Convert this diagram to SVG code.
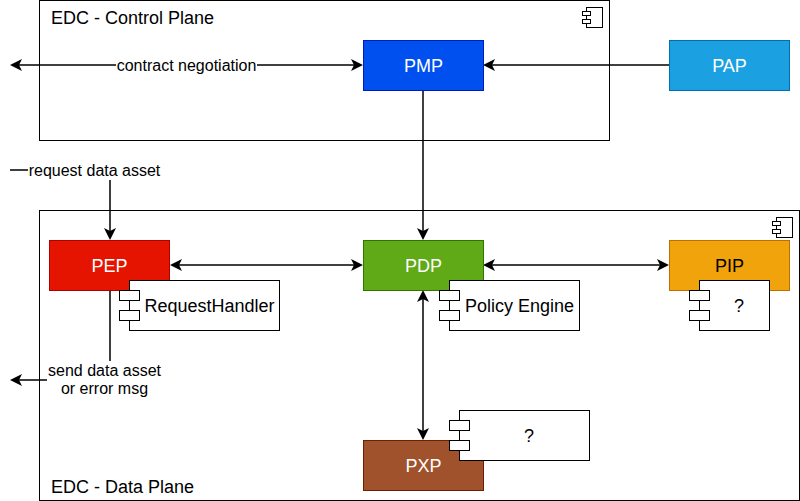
<svg xmlns="http://www.w3.org/2000/svg" width="800" height="501" viewBox="0 0 800 501">
<style>
.frame{fill:#ffffff;stroke:#000000;stroke-width:1}
.icon{fill:#ffffff;stroke:#000000;stroke-width:1}
.comp{fill:#ffffff;stroke:#000000;stroke-width:1}
.title{font-family:"Liberation Sans",Arial,sans-serif;font-size:18px;fill:#000000}
.nlabel{font-family:"Liberation Sans",Arial,sans-serif;font-size:18px;fill:#ffffff;text-anchor:middle}
.clabel{font-family:"Liberation Sans",Arial,sans-serif;font-size:18px;fill:#000000;text-anchor:middle}
.elabel{font-family:"Liberation Sans",Arial,sans-serif;font-size:16px;fill:#000000;text-anchor:middle}
.edge{fill:none;stroke:#000000;stroke-width:1.5}
.lbg{fill:#ffffff}
</style>
<defs>
<marker id="arr" markerUnits="userSpaceOnUse" markerWidth="12" markerHeight="12" viewBox="0 0 12 12" refX="3" refY="6" orient="auto-start-reverse">
<path d="M12,6 L0,0 L3,6 L0,12 Z" fill="#000000"/>
</marker>
</defs>

<g id="control-plane">
<rect class="frame" x="39.5" y="0.5" width="570" height="140"/>
<rect class="icon" x="586.5" y="7.5" width="16" height="20"/>
<rect class="icon" x="582.5" y="11.5" width="8" height="4"/>
<rect class="icon" x="582.5" y="19.5" width="8" height="4"/>
<text class="title" x="51" y="23.5">EDC - Control Plane</text>
</g>

<g id="data-plane">
<rect class="frame" x="39.5" y="210.5" width="760" height="290"/>
<rect class="icon" x="776.5" y="217.5" width="16" height="20"/>
<rect class="icon" x="772.5" y="221.5" width="8" height="4"/>
<rect class="icon" x="772.5" y="229.5" width="8" height="4"/>
<text class="title" x="51" y="493">EDC - Data Plane</text>
</g>

<g id="connectors">
<path class="edge" d="M19,65 H354" marker-start="url(#arr)" marker-end="url(#arr)"/>
<path class="edge" d="M669,65 H492" marker-end="url(#arr)"/>
<path class="edge" d="M423,90 V231" marker-end="url(#arr)"/>
<path class="edge" d="M179,265 H354" marker-start="url(#arr)" marker-end="url(#arr)"/>
<path class="edge" d="M492,265 H660" marker-start="url(#arr)" marker-end="url(#arr)"/>
<path class="edge" d="M423,299 V431" marker-start="url(#arr)" marker-end="url(#arr)"/>
<path class="edge" d="M10,170 H110 V231" marker-end="url(#arr)"/>
<path class="edge" d="M110,290 V380 H19" marker-end="url(#arr)"/>
<rect class="lbg" x="116" y="56" width="141" height="19"/>
<text class="elabel" x="186.5" y="70.5">contract negotiation</text>
<rect class="lbg" x="28" y="161" width="133" height="19"/>
<text class="elabel" x="94.5" y="175.5">request data asset</text>
<rect class="lbg" x="47" y="361" width="115" height="38"/>
<text class="elabel" x="104.5" y="375.5">send data asset</text>
<text class="elabel" x="104.5" y="394">or error msg</text>
</g>

<g id="PMP">
<rect x="363.5" y="40.5" width="120" height="50" fill="#0050ef" stroke="#001dbc"/>
<text class="nlabel" x="423.5" y="71.5">PMP</text>
</g>

<g id="PAP">
<rect x="669.5" y="40.5" width="120" height="50" fill="#1ba1e2" stroke="#006eaf"/>
<text class="nlabel" x="729.5" y="71.5">PAP</text>
</g>

<g id="PEP">
<rect x="49.5" y="240.5" width="120" height="50" fill="#e51400" stroke="#b20000"/>
<text class="nlabel" x="109.5" y="271.5">PEP</text>
</g>

<g id="RequestHandler">
<rect class="comp" x="129.5" y="280.5" width="150" height="50"/>
<rect class="comp" x="119.5" y="290.5" width="20" height="10"/>
<rect class="comp" x="119.5" y="310.5" width="20" height="10"/>
<text class="clabel" x="209.5" y="311.5">RequestHandler</text>
</g>

<g id="PDP">
<rect x="363.5" y="240.5" width="120" height="50" fill="#60a917" stroke="#2d7600"/>
<text class="nlabel" x="423.5" y="271.5">PDP</text>
</g>

<g id="PolicyEngine">
<rect class="comp" x="449.5" y="280.5" width="130" height="50"/>
<rect class="comp" x="439.5" y="290.5" width="20" height="10"/>
<rect class="comp" x="439.5" y="310.5" width="20" height="10"/>
<text class="clabel" x="519.5" y="311.5">Policy Engine</text>
</g>

<g id="PIP">
<rect x="669.5" y="240.5" width="120" height="50" fill="#f0a30a" stroke="#bd7000"/>
<text class="nlabel" x="729.5" y="271.5" style="fill:#000000">PIP</text>
</g>

<g id="PIP-component">
<rect class="comp" x="699.5" y="280.5" width="70" height="50"/>
<rect class="comp" x="689.5" y="290.5" width="20" height="10"/>
<rect class="comp" x="689.5" y="310.5" width="20" height="10"/>
<text class="clabel" x="739" y="311.5">?</text>
</g>

<g id="PXP">
<rect x="363.5" y="440.5" width="120" height="50" fill="#a0522d" stroke="#6d1f00"/>
<text class="nlabel" x="423.5" y="471.5">PXP</text>
</g>

<g id="PXP-component">
<rect class="comp" x="459.5" y="410.5" width="130" height="50"/>
<rect class="comp" x="449.5" y="420.5" width="20" height="10"/>
<rect class="comp" x="449.5" y="440.5" width="20" height="10"/>
<text class="clabel" x="529" y="441.5">?</text>
</g>
</svg>
